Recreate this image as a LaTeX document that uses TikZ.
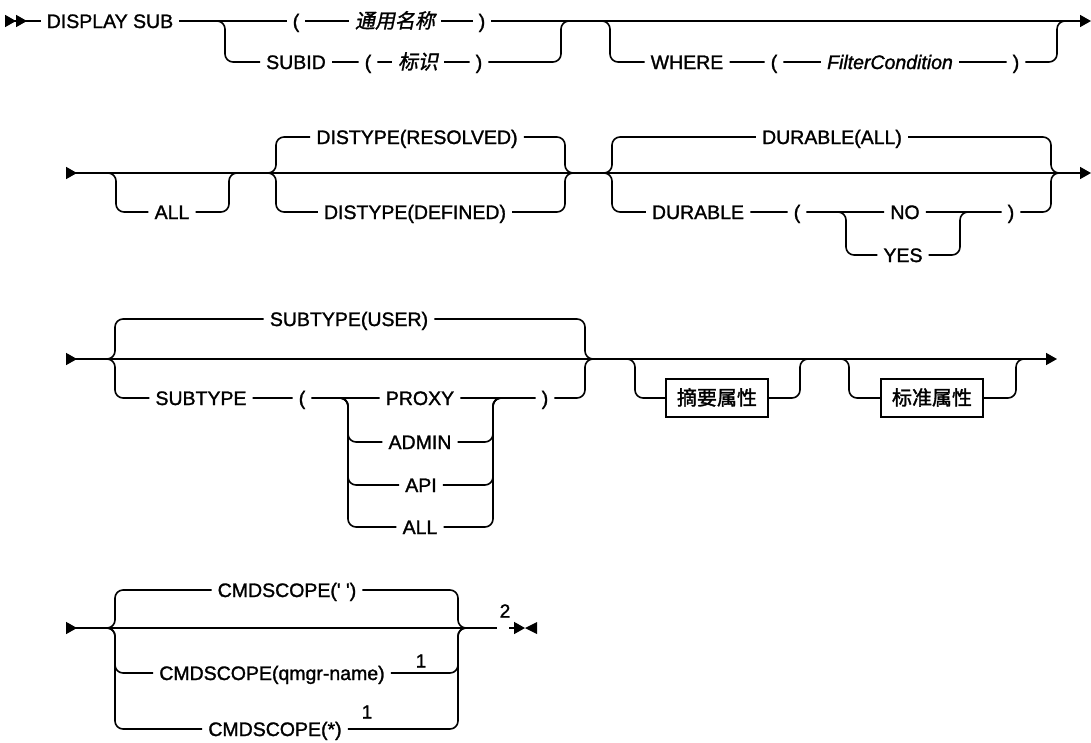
\documentclass[tikz,border=0pt]{standalone}
\usepackage{fontspec}
\setmainfont{Liberation Sans}[FakeBold=1.4]
\newfontfamily\cjkit[FakeSlant=0.2,FakeBold=1.4]{Noto Sans CJK SC}
\newfontfamily\cjkbf[FakeBold=1.6]{Noto Sans CJK SC}
\usetikzlibrary{arrows.meta}

\begin{document}
\begin{tikzpicture}[
  x=1pt, y=-1pt,
  font=\fontsize{19.5}{22}\selectfont,
  railin/.tip={Triangle[reversed,length=11pt,width=12pt]},
  railout/.tip={Triangle[length=11pt,width=12pt]},
  rail/.style={line width=1.6pt,rounded corners=8pt},
  tok/.style={inner xsep=6pt,inner ysep=0pt,text height=19pt,text depth=5pt},
  var/.style={tok,font=\fontsize{19.5}{22}\selectfont\itshape},
  cvar/.style={tok,font=\fontsize{20}{22}\selectfont\cjkit},
  attr/.style={draw,line width=1.6pt,inner xsep=11pt,inner ysep=0pt,
               text height=19pt,text depth=5pt,minimum height=38pt,
               font=\fontsize{20}{22}\selectfont\cjkbf},
  note/.style={inner sep=0pt,font=\fontsize{19}{20}\selectfont}
]
\useasboundingbox (0,0) rectangle (1091,742);

\coordinate (in1) at (5,21);
\node[tok] (disp) at (110,21) {DISPLAY SUB};
\node[tok] (lp1) at (296,21) {(};
\node[cvar] (gname) at (395,21) {通用名称};
\node[tok] (rp1) at (482,21) {)};
\coordinate (out1) at (1091,21);
\coordinate (ja) at (225,21);
\coordinate (jb) at (561,21);
\node[tok] (subid) at (296,62) {SUBID};
\node[tok] (lp2) at (368,62) {(};
\node[cvar] (ident) at (418,62) {标识};
\node[tok] (rp2) at (479,62) {)};
\coordinate (jc) at (610,21);
\coordinate (jd) at (1057,21);
\node[tok] (where) at (687,62) {WHERE};
\node[tok] (lp3) at (774,62) {(};
\node[var] (fcond) at (890,62) {FilterCondition};
\node[tok] (rp3) at (1016,62) {)};
\draw[rail,{railin[]railin[]}-] (in1) -- (disp);
\draw[rail,-{railout}] (disp) -- (lp1) -- (gname) -- (rp1) -- (out1);
\draw[rail] ([xshift=-8pt]ja) -| (ja |- subid) -- (subid) -- (lp2) -- (ident) -- (rp2) -| (jb) -- ([xshift=8pt]jb);
\draw[rail] ([xshift=-8pt]jc) -| (jc |- where) -- (where) -- (lp3) -- (fcond) -- (rp3) -| (jd) -- ([xshift=8pt]jd);

\coordinate (in2) at (66,173);
\coordinate (out2) at (1091,173);
\coordinate (je) at (116,173);
\coordinate (jf) at (229,173);
\node[tok] (all1) at (172,212) {ALL};
\coordinate (jg) at (276,173);
\coordinate (jh) at (565,173);
\node[tok] (dres) at (417,137) {DISTYPE(RESOLVED)};
\node[tok] (ddef) at (415,212) {DISTYPE(DEFINED)};
\coordinate (ji) at (612,173);
\coordinate (jj) at (1051,173);
\node[tok] (dall) at (832,137) {DURABLE(ALL)};
\node[tok] (durab) at (698,212) {DURABLE};
\node[tok] (lp4) at (797,212) {(};
\coordinate (jk) at (846,212);
\coordinate (jl) at (960,212);
\node[tok] (dno) at (905,212) {NO};
\node[tok] (dyes) at (903,255) {YES};
\node[tok] (rp4) at (1011,212) {)};
\draw[rail,{railin}-{railout}] (in2) -- (out2);
\draw[rail] ([xshift=-8pt]je) -| (je |- all1) -- (all1) -| (jf) -- ([xshift=8pt]jf);
\draw[rail] ([xshift=-8pt]jg) -| (jg |- dres) -- (dres) -| (jh) -- ([xshift=8pt]jh);
\draw[rail] ([xshift=-8pt]jg) -| (jg |- ddef) -- (ddef) -| (jh) -- ([xshift=8pt]jh);
\draw[rail] ([xshift=-8pt]ji) -| (ji |- dall) -- (dall) -| (jj) -- ([xshift=8pt]jj);
\draw[rail] ([xshift=-8pt]ji) -| (ji |- durab) -- (durab) -- (lp4) -- (dno) -- (rp4) -| (jj) -- ([xshift=8pt]jj);
\draw[rail] ([xshift=-8pt]jk) -| (jk |- dyes) -- (dyes) -| (jl) -- ([xshift=8pt]jl);

\coordinate (in3) at (66,359);
\coordinate (out3) at (1057,359);
\coordinate (jm) at (115,359);
\coordinate (jn) at (585,359);
\node[tok] (suser) at (349,319) {SUBTYPE(USER)};
\node[tok] (stype) at (201,398) {SUBTYPE};
\node[tok] (lp5) at (302,398) {(};
\coordinate (jo) at (348,398);
\coordinate (jp) at (493,398);
\node[tok] (sprx) at (420,398) {PROXY};
\node[tok] (sadm) at (420,442) {ADMIN};
\node[tok] (sapi) at (421,485) {API};
\node[tok] (sall) at (420,527) {ALL};
\node[tok] (rp5) at (545,398) {)};
\coordinate (jq) at (635,359);
\coordinate (jr) at (800,359);
\node[attr] (bsum) at (717,398) {摘要属性};
\coordinate (js) at (849,359);
\coordinate (jt) at (1016,359);
\node[attr] (bstd) at (932,398) {标准属性};
\draw[rail,{railin}-{railout}] (in3) -- (out3);
\draw[rail] ([xshift=-8pt]jm) -| (jm |- suser) -- (suser) -| (jn) -- ([xshift=8pt]jn);
\draw[rail] ([xshift=-8pt]jm) -| (jm |- stype) -- (stype) -- (lp5) -- (sprx) -- (rp5) -| (jn) -- ([xshift=8pt]jn);
\draw[rail] ([xshift=-8pt]jo) -| (jo |- sadm) -- (sadm) -| (jp) -- ([xshift=8pt]jp);
\draw[rail] ([xshift=-8pt]jo) -| (jo |- sapi) -- (sapi) -| (jp) -- ([xshift=8pt]jp);
\draw[rail] ([xshift=-8pt]jo) -| (jo |- sall) -- (sall) -| (jp) -- ([xshift=8pt]jp);
\draw[rail] ([xshift=-8pt]jq) -| (jq |- bsum) -- (bsum) -| (jr) -- ([xshift=8pt]jr);
\draw[rail] ([xshift=-8pt]js) -| (js |- bstd) -- (bstd) -| (jt) -- ([xshift=8pt]jt);

\coordinate (in4) at (66,628);
\coordinate (ju) at (115,628);
\coordinate (jv) at (458,628);
\node[tok] (cblank) at (287,590) {CMDSCOPE(\textquotesingle\ \textquotesingle)};
\node[tok] (cqm) at (272,673) {CMDSCOPE(qmgr-name)};
\node[tok] (cstar) at (275,729) {CMDSCOPE(*)};
\node[note] (n1a) at (421,661) {1};
\node[note] (n1b) at (367,712) {1};
\coordinate (end4a) at (497,628);
\node[note] (n2) at (505,611) {2};
\coordinate (end4b) at (509,628);
\coordinate (stop4) at (525,628);
\draw[rail,{railin}-] (in4) -- (end4a);
\draw[rail] ([xshift=-8pt]ju) -| (ju |- cblank) -- (cblank) -| (jv) -- ([xshift=8pt]jv);
\draw[rail] ([xshift=-8pt]ju) -| (ju |- cqm) -- (cqm) -| (jv) -- ([xshift=8pt]jv);
\draw[rail] ([xshift=-8pt]ju) -| (ju |- cstar) -- (cstar) -| (jv) -- ([xshift=8pt]jv);
\draw[rail,-{railout}] (end4b) -- (stop4);
\fill (stop4) -- ++(12,-6) -- ++(0,12) -- cycle;
\end{tikzpicture}
\end{document}
